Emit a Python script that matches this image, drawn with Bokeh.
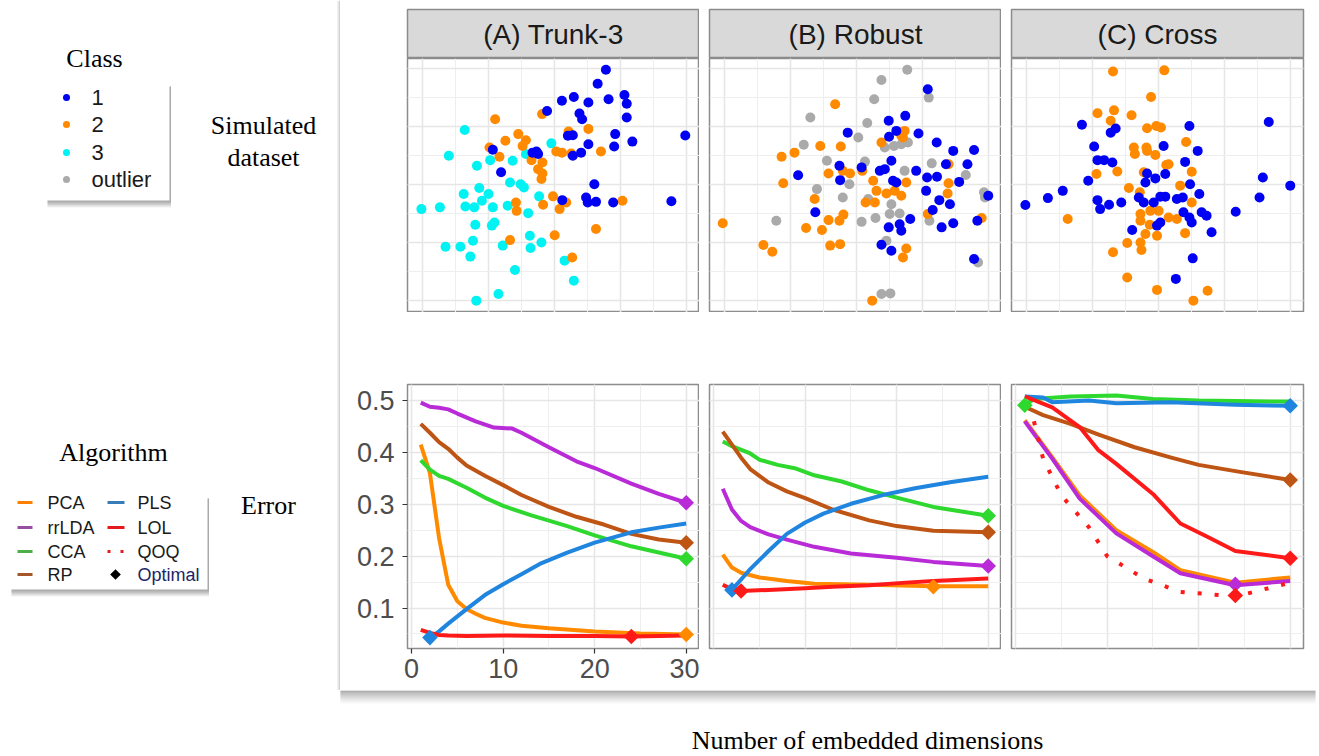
from bokeh.plotting import figure
from bokeh.layouts import row, column
from bokeh.models import Range1d, SingleIntervalTicker
from bokeh.core.properties import value
from bokeh.embed import file_html
from bokeh.resources import INLINE
import math

SANS = "Liberation Sans"
SERIF = "Liberation Serif"

# ---------------- data: simulated datasets (top row) ----------------
panel_names = ["(A) Trunk-3", "(B) Robust", "(C) Cross"]
class_names = ["1", "2", "3", "outlier"]

# (A) Trunk-3
a_c1_x = [5.55, 5.30, 4.22, 4.58, 5.02, 5.63, 6.11, 6.18, 3.77, 4.75, 4.83, 6.18, 5.83, 6.35, 7.95, 4.40, 4.55, 5.02, 5.80, 4.80,
          4.55, 3.45, 3.33, 3.50, 2.38, 5.20, 4.95, 5.00, 5.25, 5.77, 7.53, 4.23, 2.13]
a_c1_y = [7.97, 7.49, 6.90, 7.03, 6.84, 6.95, 7.10, 6.80, 6.55, 6.46, 6.26, 6.32, 5.75, 5.49, 5.70, 5.69, 5.71, 5.40, 5.32, 5.11,
          5.00, 5.15, 5.11, 5.06, 4.43, 4.02, 3.56, 3.39, 3.41, 3.39, 3.43, 3.47, 5.21]
a_c2_x = [2.20, 3.62, 5.02, 4.42, 2.90, 2.51, 3.13, 3.03, 2.03, 2.33, 3.30, 3.63, 3.50, 3.63, 3.60, 4.05, 4.22, 4.50, 5.40, 3.95,
          3.65, 2.83, 2.85, 4.15, 4.35, 6.05, 5.25, 4.00, 2.65, 4.53]
a_c2_y = [6.26, 6.44, 5.93, 5.84, 5.75, 5.52, 5.54, 5.34, 5.29, 4.97, 4.85, 4.77, 4.54, 4.39, 4.20, 5.15, 5.11, 5.08, 5.15, 3.60,
          3.31, 3.39, 3.10, 3.16, 3.39, 3.45, 2.47, 2.26, 2.09, 1.49]
a_c3_x = [1.28, 3.90, 0.80, 1.65, 2.05, 2.73, 3.13, 2.65, 2.97, 3.07, 1.72, 1.25, 2.00, 1.80, 1.30, 1.57, 2.13, 2.58, 3.53, -0.03,
          0.53, 3.20, 1.60, 2.10, 2.18, 3.25, 3.60, 1.53, 0.70, 1.15, 2.43, 3.27, 1.45, 4.30, 2.80, 4.58, 2.30, 1.63]
a_c3_y = [5.89, 5.43, 5.00, 4.66, 4.85, 4.83, 5.06, 4.08, 4.02, 3.91, 3.89, 3.68, 3.68, 3.45, 3.25, 3.22, 3.22, 3.28, 3.60, 3.16,
          3.22, 3.02, 2.62, 2.59, 2.70, 2.24, 2.01, 2.07, 1.86, 1.86, 1.90, 1.82, 1.52, 1.38, 1.06, 0.69, 0.23, 0.00]

# (B) Robust
b_out_x = [5.53, 4.75, 4.53, 6.18, 2.60, 4.32, 4.05, 2.40, 4.85, 5.13, 5.35, 5.55, 3.10, 4.25, 6.27, 3.78, 2.80, 5.45, 7.30, 5.05,
           5.00, 5.30, 4.57, 4.15, 1.57, 4.35, 6.20, 7.85, 7.88, 7.67, 4.75, 5.02, 4.90, 3.58]
b_out_y = [7.97, 7.62, 6.95, 7.01, 6.32, 6.13, 5.63, 5.38, 5.29, 5.34, 5.40, 5.46, 4.83, 4.80, 4.74, 4.02, 3.85, 4.48, 4.34, 3.33,
           2.99, 3.01, 2.85, 2.72, 2.76, 3.51, 2.76, 3.74, 3.56, 1.32, 0.23, 0.25, 2.07, 3.56]
b_c2_x = [3.35, 2.90, 3.52, 2.12, 1.73, 4.75, 5.35, 5.45, 5.40, 6.78, 3.15, 3.58, 3.80, 4.17, 1.78, 4.50, 4.60, 4.90, 5.15, 5.35,
          5.50, 6.78, 6.75, 2.73, 4.27, 4.55, 3.60, 3.48, 3.15, 2.47, 2.95, 6.15, 7.78, -0.05, 1.18, 1.45, 3.20, 3.50, 5.50, 5.40, 4.47]
b_c2_y = [6.78, 5.34, 5.32, 5.11, 4.97, 5.46, 5.69, 5.86, 5.63, 4.71, 4.39, 4.48, 4.39, 4.48, 4.05, 4.14, 3.79, 3.70, 3.79, 3.62,
          4.08, 4.05, 3.70, 3.51, 3.39, 3.39, 2.97, 2.76, 2.78, 2.51, 2.44, 2.99, 2.85, 2.67, 1.92, 1.69, 1.90, 1.95, 1.80, 1.49, 0.00]
b_c1_x = [6.15, 4.97, 5.47, 5.20, 4.98, 5.87, 3.73, 6.42, 6.92, 7.55, 3.48, 3.50, 2.23, 4.15, 4.70, 5.05, 4.85, 5.10, 5.20, 5.80,
          6.13, 6.43, 7.10, 6.70, 7.35, 6.10, 6.50, 6.82, 6.30, 2.75, 4.97, 5.30, 5.35, 5.62, 6.57, 6.92, 7.65, 7.98, 4.75, 5.05, 7.55]
b_c1_y = [7.30, 6.21, 6.38, 5.86, 5.66, 5.77, 5.80, 5.46, 5.17, 5.20, 4.66, 4.16, 4.33, 4.60, 4.48, 4.83, 4.54, 4.14, 4.08, 4.48,
          4.25, 4.28, 4.10, 4.71, 4.71, 3.79, 3.47, 3.33, 3.13, 3.05, 2.53, 2.64, 2.41, 2.82, 2.53, 2.67, 2.76, 3.62, 1.93, 1.72, 1.44]

# (C) Cross
c_c2_x = [2.62, 4.17, 3.77, 2.15, 2.65, 2.55, 3.18, 3.65, 3.93, 4.07, 4.83, 3.25, 3.28, 3.63, 3.65, 3.90, 4.30, 4.23, 2.75, 2.12,
          5.00, 3.55, 3.10, 4.65, 3.43, 5.00, 3.75, 4.00, 3.45, 3.45, 4.30, 4.55, 3.73, 3.60, 3.95, 4.80, 3.05, 3.45, 3.48, 2.62,
          3.05, 3.95, 5.05, 5.48, 1.25]
c_c2_y = [7.91, 7.95, 7.03, 6.47, 6.57, 6.21, 6.40, 5.95, 6.03, 5.98, 5.48, 5.29, 5.06, 5.29, 5.17, 5.03, 4.71, 4.68, 4.46, 4.37,
          4.45, 4.43, 3.89, 3.97, 3.74, 3.39, 3.10, 3.10, 2.99, 2.76, 2.87, 2.82, 2.62, 2.30, 2.24, 2.33, 1.99, 2.01, 1.75, 1.67,
          0.80, 0.37, 0.00, 0.34, 2.82]
c_c1_x = [1.68, 4.93, 7.33, 2.70, 2.55, 2.05, 4.15, 5.18, 2.15, 2.35, 2.60, 4.80, 3.65, 4.20, 3.90, 3.60, 1.87, 4.95, 7.15, 7.98,
          1.10, 0.65, -0.03, 2.15, 2.23, 2.50, 2.87, 3.40, 3.55, 3.85, 4.05, 4.20, 4.55, 4.73, 5.23, 7.05, 4.75, 4.93, 5.30, 5.45,
          5.00, 4.05, 3.95, 3.20, 5.60, 6.33, 5.03, 4.52]
c_c1_y = [6.07, 6.03, 6.17, 5.94, 5.80, 5.32, 5.34, 5.17, 4.85, 4.85, 4.77, 4.79, 4.39, 4.37, 4.22, 4.08, 4.14, 4.02, 4.25, 3.97,
          3.79, 3.54, 3.30, 3.47, 3.16, 3.31, 3.39, 3.56, 3.39, 3.39, 3.59, 3.59, 3.51, 3.56, 3.68, 3.56, 3.05, 2.87, 3.05, 2.93,
          2.70, 2.70, 2.59, 2.44, 2.36, 3.07, 1.46, 0.75]

# ---------------- data: error vs embedded dimensions (bottom row) ----------------
algorithms = ["PCA", "rrLDA", "CCA", "RP", "PLS", "LOL", "QOQ"]

# (A) Trunk-3
a_pca_x = [1, 2, 3, 4, 5, 6, 7, 8, 10, 12, 15, 20, 25, 30]
a_pca_y = [0.415, 0.36, 0.235, 0.145, 0.113, 0.098, 0.089, 0.081, 0.072, 0.066, 0.061, 0.055, 0.051, 0.049]
a_rrlda_x = [1, 2, 3, 4, 5, 7, 9, 11, 12, 15, 18, 20, 24, 27, 30]
a_rrlda_y = [0.496, 0.488, 0.486, 0.483, 0.475, 0.46, 0.448, 0.446, 0.438, 0.41, 0.383, 0.37, 0.34, 0.32, 0.303]
a_cca_x = [1, 2, 3, 4, 6, 8, 10, 13, 17, 20, 24, 27, 30]
a_cca_y = [0.385, 0.367, 0.355, 0.349, 0.332, 0.313, 0.297, 0.279, 0.258, 0.240, 0.219, 0.207, 0.195]
a_rp_x = [1, 2, 3, 4, 5, 6, 8, 10, 12, 15, 18, 21, 24, 27, 30]
a_rp_y = [0.455, 0.438, 0.42, 0.407, 0.39, 0.375, 0.355, 0.337, 0.318, 0.295, 0.276, 0.261, 0.243, 0.232, 0.226]
a_pls_x = [2, 3, 4, 5, 6, 8, 10, 12, 14, 17, 20, 24, 27, 30]
a_pls_y = [0.043, 0.055, 0.07, 0.084, 0.098, 0.125, 0.146, 0.165, 0.185, 0.207, 0.226, 0.246, 0.255, 0.263]
a_lol_x = [1, 2, 3, 4, 6, 10, 15, 20, 24, 27, 30]
a_lol_y = [0.058, 0.052, 0.048, 0.047, 0.046, 0.047, 0.046, 0.046, 0.045, 0.046, 0.047]
a_opt_alg = ["PCA", "rrLDA", "CCA", "RP", "PLS", "LOL"]
a_opt_x = [30, 30, 30, 30, 2, 24]
a_opt_y = [0.049, 0.303, 0.195, 0.226, 0.043, 0.045]

# (B) Robust
b_pca_x = [1, 2, 3, 5, 8, 11, 17, 24, 30]
b_pca_y = [0.203, 0.178, 0.168, 0.159, 0.152, 0.147, 0.145, 0.142, 0.142]
b_rrlda_x = [1, 2, 3, 4, 6, 8, 11, 15, 20, 24, 30]
b_rrlda_y = [0.33, 0.29, 0.268, 0.256, 0.242, 0.232, 0.218, 0.205, 0.197, 0.189, 0.181]
b_cca_x = [1, 2, 4, 5, 7, 9, 11, 14, 17, 20, 24, 30]
b_cca_y = [0.421, 0.412, 0.398, 0.386, 0.376, 0.369, 0.356, 0.344, 0.327, 0.313, 0.295, 0.278]
b_rp_x = [1, 2, 3, 4, 6, 8, 10, 13, 17, 20, 24, 30]
b_rp_y = [0.44, 0.415, 0.39, 0.368, 0.342, 0.325, 0.312, 0.29, 0.269, 0.258, 0.249, 0.246]
b_pls_x = [2, 3, 4, 6, 8, 10, 12, 15, 19, 22, 26, 30]
b_pls_y = [0.135, 0.155, 0.175, 0.21, 0.243, 0.265, 0.282, 0.301, 0.32, 0.331, 0.343, 0.353]
b_lol_x = [1, 2, 3, 6, 10, 13, 17, 21, 24, 30]
b_lol_y = [0.145, 0.136, 0.133, 0.135, 0.138, 0.141, 0.144, 0.149, 0.152, 0.157]
b_opt_alg = ["PCA", "rrLDA", "CCA", "RP", "PLS", "LOL"]
b_opt_x = [24, 30, 30, 30, 2, 3]
b_opt_y = [0.141, 0.181, 0.278, 0.246, 0.135, 0.133]

# (C) Cross
c_pca_x = [1, 4, 7, 11, 15, 18, 24, 30]
c_pca_y = [0.462, 0.391, 0.317, 0.25, 0.208, 0.173, 0.149, 0.159]
c_rrlda_x = [1, 4, 7, 11, 15, 18, 24, 30]
c_rrlda_y = [0.46, 0.388, 0.311, 0.244, 0.2, 0.167, 0.144, 0.152]
c_cca_x = [1, 2, 6, 11, 15, 20, 30]
c_cca_y = [0.491, 0.503, 0.508, 0.51, 0.503, 0.5, 0.498]
c_rp_x = [1, 3, 6, 9, 13, 17, 20, 24, 30]
c_rp_y = [0.488, 0.472, 0.455, 0.435, 0.41, 0.39, 0.376, 0.364, 0.347]
c_pls_x = [1, 3, 4, 8, 11, 17, 24, 30]
c_pls_y = [0.508, 0.506, 0.497, 0.5, 0.495, 0.497, 0.492, 0.49]
c_lol_x = [1, 4, 7, 9, 11, 15, 18, 21, 24, 30]
c_lol_y = [0.508, 0.487, 0.449, 0.405, 0.378, 0.32, 0.263, 0.237, 0.21, 0.196]
c_qoq_x = [2, 3, 5, 8, 10, 14, 18, 21, 24, 30]
c_qoq_y = [0.46, 0.388, 0.317, 0.256, 0.2, 0.157, 0.131, 0.127, 0.122, 0.149]
c_opt_alg = ["rrLDA", "CCA", "RP", "PLS", "LOL", "QOQ"]
c_opt_x = [24, 1, 30, 30, 30, 24]
c_opt_y = [0.146, 0.491, 0.347, 0.49, 0.196, 0.124]

# ---------------- styles ----------------
CLASS_COL = {"1": "#0000F2", "2": "#FF8A00", "3": "#00F2F2", "outlier": "#AAAAAA"}
LINE_COL = {"PCA": "#FF8A00", "rrLDA": "#B82BD6", "CCA": "#2FD82F", "RP": "#BE5514",
            "PLS": "#1F85DE", "LOL": "#FF1A1A", "QOQ": "#FF1A1A"}
LEG_COL = {"PCA": "#FF7F00", "rrLDA": "#984EA3", "CCA": "#4DAF4A", "RP": "#A65628",
           "PLS": "#377EB8", "LOL": "#E41A1C", "QOQ": "#E41A1C"}
BORDER = "#8C8C8C"

scatter_sets = [
    [("3", a_c3_x, a_c3_y), ("2", a_c2_x, a_c2_y), ("1", a_c1_x, a_c1_y)],
    [("outlier", b_out_x, b_out_y), ("2", b_c2_x, b_c2_y), ("1", b_c1_x, b_c1_y)],
    [("2", c_c2_x, c_c2_y), ("1", c_c1_x, c_c1_y)],
]
line_sets = [
    {"PCA": (a_pca_x, a_pca_y), "rrLDA": (a_rrlda_x, a_rrlda_y), "CCA": (a_cca_x, a_cca_y),
     "RP": (a_rp_x, a_rp_y), "PLS": (a_pls_x, a_pls_y), "LOL": (a_lol_x, a_lol_y)},
    {"PCA": (b_pca_x, b_pca_y), "rrLDA": (b_rrlda_x, b_rrlda_y), "CCA": (b_cca_x, b_cca_y),
     "RP": (b_rp_x, b_rp_y), "PLS": (b_pls_x, b_pls_y), "LOL": (b_lol_x, b_lol_y)},
    {"PCA": (c_pca_x, c_pca_y), "rrLDA": (c_rrlda_x, c_rrlda_y), "CCA": (c_cca_x, c_cca_y),
     "RP": (c_rp_x, c_rp_y), "PLS": (c_pls_x, c_pls_y), "LOL": (c_lol_x, c_lol_y),
     "QOQ": (c_qoq_x, c_qoq_y)},
]
opt_sets = [(a_opt_alg, a_opt_x, a_opt_y), (b_opt_alg, b_opt_x, b_opt_y), (c_opt_alg, c_opt_x, c_opt_y)]

# column geometry: (left border, right border)
borders = [(67, 0), (10, 0), (10, 14)]
FW = 292


def base_fig(**kw):
    return figure(output_backend="svg", toolbar_location=None, **kw)


def style_grid(p, xt, yt):
    p.xgrid.ticker = xt
    p.ygrid.ticker = yt
    p.grid.grid_line_color = "#E6E6E6"
    p.grid.grid_line_width = 1.6
    p.grid.minor_grid_line_color = "#EEEEEE"
    p.grid.minor_grid_line_width = 1.1
    p.outline_line_color = BORDER
    p.outline_line_width = 1.5
    p.background_fill_color = "white"
    p.border_fill_color = "white"


def strip_fig(i):
    l, r = borders[i]
    s = base_fig(x_range=Range1d(0, 1), y_range=Range1d(0, 1), frame_width=FW, frame_height=49,
                 min_border_left=l, min_border_right=r, min_border_top=9, min_border_bottom=0,
                 x_axis_location=None, y_axis_location=None)
    s.grid.visible = False
    s.background_fill_color = "#D9D9D9"
    s.border_fill_color = "white"
    s.outline_line_color = BORDER
    s.outline_line_width = 1.5
    s.text(x=[0.5], y=[0.5], text=[panel_names[i]], text_align="center", text_baseline="middle",
           text_font=value(SANS), text_font_size="28px", text_color="#1A1A1A")
    return s


def scatter_fig(i):
    l, r = borders[i]
    p = base_fig(x_range=Range1d(-0.45, 8.38), y_range=Range1d(-0.41, 8.36), frame_width=FW, frame_height=254,
                 min_border_left=l, min_border_right=r, min_border_top=0, min_border_bottom=0,
                 x_axis_location=None, y_axis_location=None)
    style_grid(p, SingleIntervalTicker(interval=2, num_minor_ticks=2),
               SingleIntervalTicker(interval=2, num_minor_ticks=2))
    for cls, xs, ys in scatter_sets[i]:
        p.scatter(x=xs, y=ys, marker="circle", size=10, fill_color=CLASS_COL[cls], line_color=None)
    return p


def line_fig(i):
    l, r = borders[i]
    show = (i == 0)
    p = base_fig(x_range=Range1d(-0.45, 31.45), y_range=Range1d(0.022, 0.531), frame_width=FW, frame_height=264,
                 min_border_left=l, min_border_right=r, min_border_top=72, min_border_bottom=42,
                 x_axis_location="below" if show else None, y_axis_location="left" if show else None)
    xt = SingleIntervalTicker(interval=10, num_minor_ticks=2)
    yt = SingleIntervalTicker(interval=0.1, num_minor_ticks=2)
    style_grid(p, xt, yt)
    if show:
        p.xaxis.ticker = xt
        p.yaxis.ticker = yt
        p.axis.axis_line_color = None
        p.axis.major_tick_line_color = "#333333"
        p.axis.major_tick_line_width = 1.2
        p.axis.major_tick_out = 5
        p.axis.major_tick_in = 0
        p.axis.minor_tick_line_color = None
        p.axis.major_label_text_font = SANS
        p.axis.major_label_text_font_size = "27px"
        p.axis.major_label_text_color = "#4D4D4D"
        p.xaxis.major_label_standoff = 5
        p.yaxis.major_label_standoff = 8
    for alg, (xs, ys) in line_sets[i].items():
        if alg == "QOQ":
            p.line(xs, ys, line_color=LINE_COL[alg], line_width=4, line_dash="4 13")
        else:
            p.line(xs, ys, line_color=LINE_COL[alg], line_width=4, line_join="round")
    algs, ox, oy = opt_sets[i]
    p.scatter(x=ox, y=oy, marker="square", angle=math.pi / 4, size=11,
              fill_color=[LINE_COL[a] for a in algs], line_color=None)
    return p


# ---------------- left side: labels and legends ----------------
left = base_fig(x_range=Range1d(0, 340), y_range=Range1d(690, 0), frame_width=340, frame_height=690,
                min_border=0, x_axis_location=None, y_axis_location=None)
left.grid.visible = False
left.outline_line_color = None
left.background_fill_color = "white"
left.border_fill_color = "white"


def shadow_box(p, x0, y0, x1, y1):
    for k in range(1, 8):
        p.quad(left=x0 + 1, right=x1 + 1.5, top=y0 + 3, bottom=y1 + k, fill_color="black",
               fill_alpha=0.055, line_color=None)
    p.quad(left=x0, right=x1, top=y0, bottom=y1, fill_color="white", line_color=None)


def serif(p, x, y, t):
    p.text(x=[x], y=[y], text=[t], text_align="center", text_baseline="middle",
           text_font=value(SERIF), text_font_size="26px", text_color="black")


serif(left, 94, 58, "Class")
shadow_box(left, 46, 83, 169, 200)
cls_rows = [97, 124, 152, 179]
left.scatter(x=[66] * 4, y=cls_rows, size=7, marker="circle",
             fill_color=[CLASS_COL[c] for c in class_names], line_color=None)
left.text(x=[91] * 4, y=cls_rows, text=class_names, text_baseline="middle", text_align="left",
          text_font=value(SANS), text_font_size="22px", text_color="#1A1A1A")
serif(left, 263, 125, "Simulated")
serif(left, 263, 157, "dataset")

serif(left, 113, 452, "Algorithm")
shadow_box(left, 10, 495, 207, 589)
alg_rows = [502, 527, 551, 574]
col1 = ["PCA", "rrLDA", "CCA", "RP"]
col2 = ["PLS", "LOL", "QOQ"]
left.segment(x0=[17] * 4, x1=[32] * 4, y0=alg_rows, y1=alg_rows, line_width=3,
             line_color=[LEG_COL[a] for a in col1])
left.segment(x0=[107] * 2, x1=[124] * 2, y0=alg_rows[:2], y1=alg_rows[:2], line_width=3,
             line_color=[LEG_COL[a] for a in col2[:2]])
left.line([107, 123], [alg_rows[2], alg_rows[2]], line_width=3, line_color=LEG_COL["QOQ"], line_dash="3 10")
left.scatter(x=[115], y=[alg_rows[3]], marker="square", angle=math.pi / 4, size=7.5,
             fill_color="black", line_color=None)
left.text(x=[47] * 4, y=alg_rows, text=col1, text_baseline="middle", text_align="left",
          text_font=value(SANS), text_font_size="18px", text_color="#1A1A1A")
left.text(x=[137] * 3, y=alg_rows[:3], text=col2, text_baseline="middle", text_align="left",
          text_font=value(SANS), text_font_size="18px", text_color="#1A1A1A")
left.text(x=[137], y=[alg_rows[3]], text=["Optimal"], text_baseline="middle", text_align="left",
          text_font=value(SANS), text_font_size="18px", text_color="#1C2566")
serif(left, 268, 505, "Error")
# soft shadow along the left edge of the panel card
left.quad(left=[336.5, 337.8, 338.8], right=[337.8, 338.8, 340], top=[0, 0, 0], bottom=[690, 690, 690],
          fill_color=["#F0F0F0", "#DDDDDD", "#C4C4C4"], line_color=None)

# ---------------- bottom: shadow + x label ----------------
bottom = base_fig(x_range=Range1d(0, 1317), y_range=Range1d(755, 690), frame_width=1317, frame_height=65,
                  min_border=0, x_axis_location=None, y_axis_location=None)
bottom.grid.visible = False
bottom.outline_line_color = None
bottom.background_fill_color = "white"
bottom.border_fill_color = "white"
n_sh = 13
sh_top = [690 + k for k in range(n_sh)]
sh_bot = [691 + k for k in range(n_sh)]
sh_col = []
for k in range(n_sh):
    g = int(140 + (255 - 140) * (k / n_sh) ** 0.8)
    sh_col.append("#%02x%02x%02x" % (g, g, g))
bottom.quad(left=[340] * n_sh, right=[1315] * n_sh, top=sh_top, bottom=sh_bot, fill_color=sh_col, line_color=None)
serif(bottom, 867, 740, "Number of embedded dimensions")

# ---------------- assemble ----------------
cols = [column(strip_fig(i), scatter_fig(i), line_fig(i), spacing=0) for i in range(3)]
top = row(left, *cols, spacing=0)
layout = column(top, bottom, spacing=0)

open("out.html", "w").write(file_html(layout, INLINE))
